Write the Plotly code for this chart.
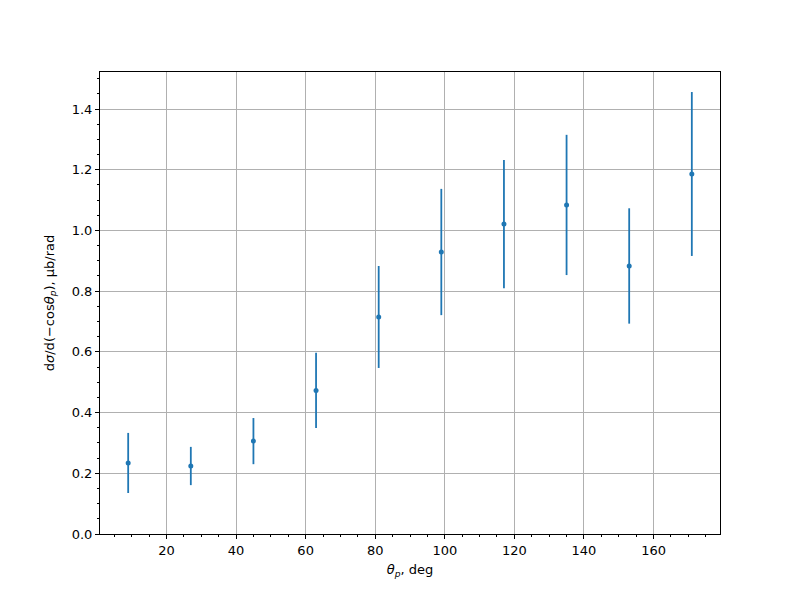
import plotly.graph_objects as go

theta = [9, 27, 45, 63, 81, 99, 117, 135, 153, 171]
xsec = [0.234, 0.224, 0.306, 0.473, 0.715, 0.929, 1.021, 1.084, 0.883, 1.186]
err = [0.099, 0.063, 0.076, 0.124, 0.168, 0.208, 0.211, 0.231, 0.190, 0.270]

fig = go.Figure()
fig.add_trace(go.Scatter(
    x=theta, y=xsec, mode="markers",
    marker=dict(color="#1f77b4", size=5),
    error_y=dict(type="data", array=err, visible=True, color="#1f77b4",
                 thickness=1.8, width=0),
    showlegend=False,
))

axis_common = dict(
    showline=True, linecolor="black", linewidth=1, mirror=True,
    ticks="outside", ticklen=4, tickcolor="black",
    showgrid=True, gridcolor="#b0b0b0", gridwidth=1,
    zeroline=False,
    tickfont=dict(family="DejaVu Sans", size=13, color="black"),
)

fig.update_xaxes(
    range=[0.9, 179.1], tickvals=[20, 40, 60, 80, 100, 120, 140, 160],
    minor=dict(dtick=5, tick0=0, ticks="outside", ticklen=2, tickcolor="black", showgrid=False),
    title=dict(text="<i>θ</i><sub><i>p</i></sub>, deg",
               font=dict(family="DejaVu Sans", size=13, color="black"), standoff=8),
    **axis_common,
)
fig.update_yaxes(
    range=[0, 1.522], tickvals=[0, 0.2, 0.4, 0.6, 0.8, 1.0, 1.2, 1.4],
    ticktext=["0.0", "0.2", "0.4", "0.6", "0.8", "1.0", "1.2", "1.4"],
    minor=dict(dtick=0.05, tick0=0, ticks="outside", ticklen=2, tickcolor="black", showgrid=False),
    title=dict(text="d<i>σ</i>/d(−cos<i>θ</i><sub><i>p</i></sub>), μb/rad",
               font=dict(family="DejaVu Sans", size=13, color="black"), standoff=14),
    **axis_common,
)

fig.update_layout(
    width=800, height=600,
    margin=dict(l=92, r=88, t=64, b=74),
    plot_bgcolor="white", paper_bgcolor="white",
    font=dict(family="DejaVu Sans", size=13, color="black"),
)

fig.write_html("out.html")
